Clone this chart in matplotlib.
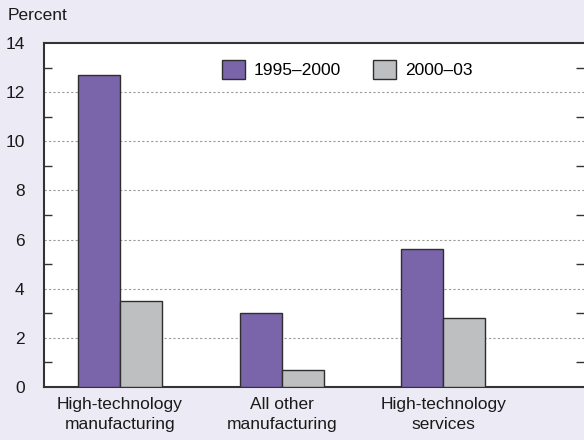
import matplotlib
matplotlib.use('Agg')
import matplotlib.pyplot as plt
import numpy as np
from matplotlib.ticker import MultipleLocator, FixedLocator

# data
categories = ['High-technology\nmanufacturing', 'All other\nmanufacturing', 'High-technology\nservices']
series_labels = ['1995\u20132000', '2000\u201303']
vals_1995_2000 = [12.7, 3.0, 5.6]
vals_2000_03 = [3.5, 0.7, 2.8]

BG = '#ECEAF4'
PURPLE = '#7B65AA'
GRAY = '#BEBFC1'
EDGE = '#2E2E2E'
FS = 12.5

plt.rcParams.update({
    'font.family': ['Liberation Sans', 'DejaVu Sans'],
    'font.size': FS,
})

fig = plt.figure(figsize=(5.84, 4.40), dpi=100)
fig.patch.set_facecolor(BG)
ax = fig.add_axes([44 / 584, 1 - 387 / 440, 540 / 584, 344 / 440])
ax.set_facecolor('white')

x = np.arange(len(categories))
width = 0.26
ax.bar(x - width / 2, vals_1995_2000, width, color=PURPLE, edgecolor=EDGE,
       linewidth=1.0, label=series_labels[0], zorder=3)
ax.bar(x + width / 2, vals_2000_03, width, color=GRAY, edgecolor=EDGE,
       linewidth=1.0, label=series_labels[1], zorder=3)

ax.set_xlim(-0.47, 2.87)
ax.set_ylim(0, 14)
ax.set_xticks(x)
ax.set_xticklabels(categories, fontsize=FS, color='#1a1a1a', linespacing=1.4)
ax.tick_params(axis='x', length=0, pad=7)

ax.yaxis.set_major_locator(MultipleLocator(2))
ax.yaxis.set_minor_locator(FixedLocator([1, 3, 5, 7, 9, 11, 13]))
ax.tick_params(axis='y', which='major', length=0, pad=14, labelsize=FS,
               labelcolor='#1a1a1a')
ax.tick_params(axis='y', which='minor', direction='in', length=6, width=1.0,
               color='#333333', left=True, right=True)

for yv in range(2, 14, 2):
    ax.axhline(yv, color='#9A9A9A', linestyle=(0, (2, 2)), linewidth=0.8, zorder=1)

for side in ['left', 'top', 'bottom']:
    ax.spines[side].set_color('#333333')
    ax.spines[side].set_linewidth(1.5)
ax.spines['right'].set_visible(False)

fig.text(8 / 584, 1 - 15 / 440, 'Percent', fontsize=FS, va='center', ha='left',
         color='#1a1a1a')

ax.legend(loc='upper left', bbox_to_anchor=((222 - 44) / 540, 1 - 17 / 344),
          ncol=2, frameon=False, fontsize=FS, handlelength=1.3, handleheight=1.3,
          handletextpad=0.5, columnspacing=1.9, borderpad=0, borderaxespad=0)

fig.savefig('out.png', dpi=100, facecolor=BG)
